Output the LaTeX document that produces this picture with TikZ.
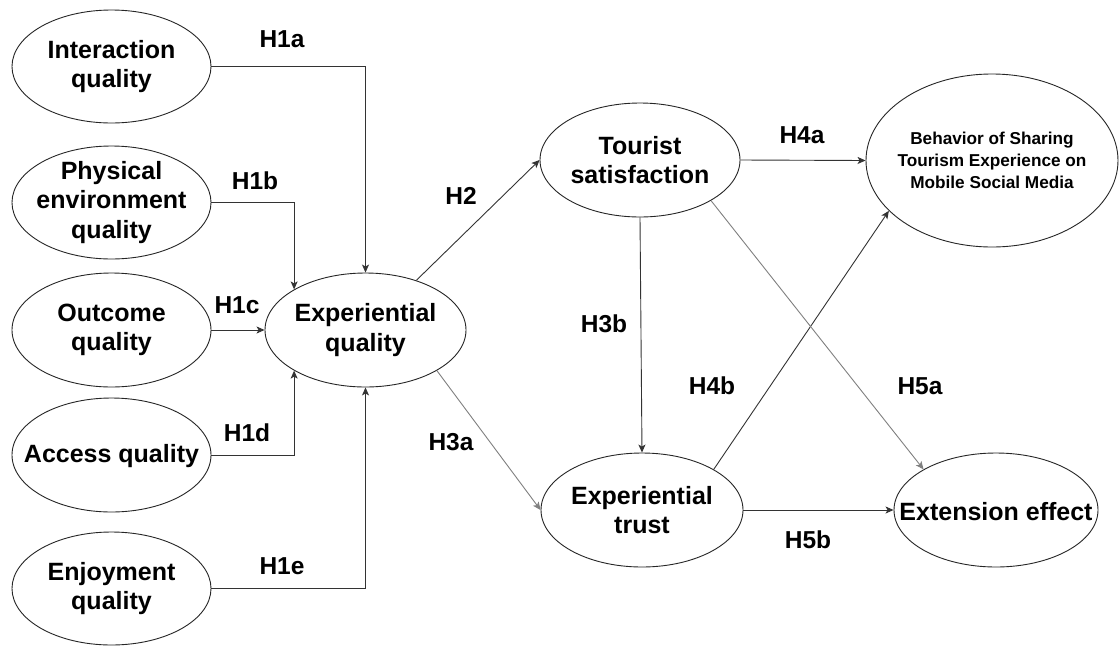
\documentclass[tikz,border=0pt]{standalone}
\usepackage{fontspec}
\setmainfont{Liberation Sans}
\usetikzlibrary{arrows.meta,shapes.geometric}
\begin{document}
\begin{tikzpicture}[x=1pt,y=-1pt,
  box/.style={ellipse, draw=black!85, line width=0.9pt, inner sep=0pt,
              minimum width=200pt, minimum height=114pt},
  txt/.style={font=\bfseries\fontsize{25}{29.5}\selectfont, align=center, inner sep=0pt},
  smalltxt/.style={font=\bfseries\fontsize{17.2}{21.8}\selectfont, align=center, inner sep=0pt},
  hyp/.style={font=\bfseries\fontsize{24.5}{29}\selectfont, inner sep=0pt},
  arr/.style={draw=black!80, line width=0.9pt, -{Stealth[length=8pt,width=7pt,inset=2pt]}},
  arrl/.style={arr, draw=black!50}]
\fill[white] (0,0) rectangle (1119,646);
\useasboundingbox (0,0) rectangle (1119,646);

% left column
\node[box, minimum width=199pt, minimum height=113pt] (iq) at (111.5,66.5) {};
\node[txt] (iqt) at (iq) {Interaction\\quality};
\node[box, minimum width=199pt, minimum height=113pt] (pe) at (111.5,202.5) {};
\node[txt] (pet) at (pe) {Physical\\environment\\quality};
\node[box, minimum width=199pt] (oq) at (111.5,330) {};
\node[txt] (oqt) at (oq) {Outcome\\quality};
\node[box, minimum width=199pt] (aq) at (111.5,455) {};
\node[txt] (aqt) at ([yshift=-1.5pt]aq.center) {Access quality};
\node[box, minimum width=199pt, minimum height=113pt] (eq) at (111.5,588.5) {};
\node[txt] (eqt) at (eq) {Enjoyment\\quality};

% middle
\node[box, minimum width=201pt] (xq) at (365.5,330) {};
\node[txt] (xqt) at (xq) {Experiential\\quality};
\node[box] (ts) at (640,160) {};
\node[txt] (tst) at (ts) {Tourist\\satisfaction};
\node[box, minimum width=202pt] (et) at (642,510) {};
\node[txt] (ett) at (et) {Experiential\\trust};

% right
\node[box, minimum width=252pt, minimum height=173pt] (bh) at (992,160.5) {};
\node[smalltxt] (bht) at (bh) {Behavior of Sharing\\Tourism Experience on\\Mobile Social Media};
\node[box, minimum width=204pt] (ee) at (996,510) {};
\node[txt] (eet) at ([yshift=-1.5pt]ee.center) {Extension effect};

% connectors
\draw[arr] (iq.east) -| (xq.north);
\draw[arr] (pe.east) -| (xq.north west);
\draw[arr] (oq.east) -- (xq.west);
\draw[arr] (aq.east) -| (xq.south west);
\draw[arr] (eq.east) -| (xq.south);
\draw[arr] (xq) -- (ts.west);
\draw[arrl] (xq.south east) -- (et.west);
\draw[arr] (ts.south) -- (et.north);
\draw[arr] (ts.east) -- (bh.west);
\draw[arr] (et.north east) -- (bh.206);
\draw[arrl] (ts.south east) -- (ee.north west);
\draw[arr] (et.east) -- (ee.west);

% hypothesis labels
\node[hyp] (h1a) at (282,39) {H1a};
\node[hyp] (h1b) at (255,181) {H1b};
\node[hyp] (h1c) at (237,305) {H1c};
\node[hyp] (h1d) at (247,433) {H1d};
\node[hyp] (h1e) at (282,566) {H1e};
\node[hyp] (h2) at (461,196) {H2};
\node[hyp] (h3a) at (451,442) {H3a};
\node[hyp] (h3b) at (604,324) {H3b};
\node[hyp] (h4a) at (802,135) {H4a};
\node[hyp] (h4b) at (712,386) {H4b};
\node[hyp] (h5a) at (920,386) {H5a};
\node[hyp] (h5b) at (808,540) {H5b};
\end{tikzpicture}
\end{document}
